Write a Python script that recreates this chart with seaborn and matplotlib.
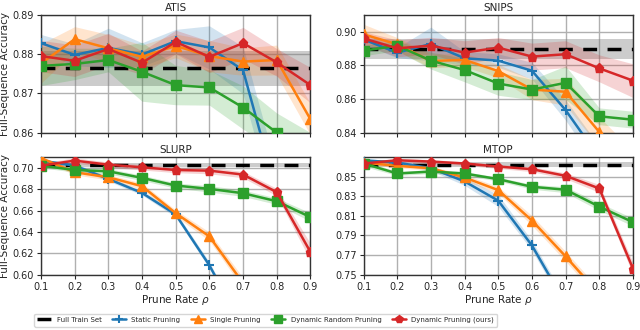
import numpy as np
import pandas as pd
import matplotlib
matplotlib.use("Agg")
import matplotlib.pyplot as plt
import seaborn as sns
from matplotlib.ticker import FormatStrFormatter

# Prune rates
rates = [0.1, 0.2, 0.3, 0.4, 0.5, 0.6, 0.7, 0.8, 0.9]
methods = ["Static Pruning", "Single Pruning", "Dynamic Random Pruning", "Dynamic Pruning (ours)"]
colors = ["#1f77b4", "#ff7f0e", "#2ca02c", "#d62728"]
markers = ["+", "^", "s", "p"]

# ATIS
atis_static = [0.8828, 0.8798, 0.8816, 0.8799, 0.8833, 0.8817, 0.8759, 0.8447, 0.8200]
atis_single = [0.8776, 0.8838, 0.8815, 0.8793, 0.8821, 0.8795, 0.8781, 0.8785, 0.8634]
atis_random = [0.8770, 0.8775, 0.8785, 0.8755, 0.8721, 0.8715, 0.8664, 0.8600, 0.8550]
atis_dynamic = [0.8795, 0.8783, 0.8813, 0.8778, 0.8831, 0.8793, 0.8828, 0.8779, 0.8721]
atis_static_sd = [0.0022, 0.0028, 0.0050, 0.0030, 0.0030, 0.0055, 0.0060, 0.0060, 0.0060]
atis_single_sd = [0.0050, 0.0032, 0.0035, 0.0030, 0.0030, 0.0040, 0.0035, 0.0038, 0.0040]
atis_random_sd = [0.0050, 0.0040, 0.0030, 0.0075, 0.0050, 0.0045, 0.0055, 0.0050, 0.0050]
atis_dynamic_sd = [0.0040, 0.0040, 0.0040, 0.0030, 0.0030, 0.0040, 0.0040, 0.0035, 0.0045]
atis_full, atis_full_sd = 0.8764, 0.0045

# SNIPS
snips_static = [0.8954, 0.8875, 0.8927, 0.8842, 0.8828, 0.8768, 0.8534, 0.8250, 0.8000]
snips_single = [0.8984, 0.8925, 0.8826, 0.8832, 0.8766, 0.8656, 0.8643, 0.8404, 0.8200]
snips_random = [0.8887, 0.8917, 0.8828, 0.8772, 0.8692, 0.8656, 0.8696, 0.8497, 0.8477]
snips_dynamic = [0.8960, 0.8901, 0.8917, 0.8876, 0.8905, 0.8852, 0.8866, 0.8782, 0.8709]
snips_static_sd = [0.0030, 0.0030, 0.0100, 0.0040, 0.0040, 0.0050, 0.0060, 0.0070, 0.0070]
snips_single_sd = [0.0060, 0.0040, 0.0040, 0.0040, 0.0040, 0.0060, 0.0080, 0.0090, 0.0090]
snips_random_sd = [0.0030, 0.0030, 0.0050, 0.0070, 0.0070, 0.0060, 0.0100, 0.0050, 0.0050]
snips_dynamic_sd = [0.0040, 0.0050, 0.0050, 0.0070, 0.0060, 0.0080, 0.0080, 0.0080, 0.0100]
snips_full, snips_full_sd = 0.8895, 0.0060

# SLURP
slurp_static = [0.7069, 0.7022, 0.6897, 0.6766, 0.6564, 0.6087, 0.5500, 0.4900, 0.4300]
slurp_single = [0.7093, 0.6960, 0.6913, 0.6829, 0.6576, 0.6358, 0.5920, 0.5500, 0.5000]
slurp_random = [0.7022, 0.6981, 0.6969, 0.6907, 0.6835, 0.6804, 0.6763, 0.6688, 0.6539]
slurp_dynamic = [0.7022, 0.7069, 0.7031, 0.7006, 0.6981, 0.6975, 0.6938, 0.6773, 0.6212]
slurp_static_sd = [0.0015, 0.0020, 0.0020, 0.0020, 0.0025, 0.0030, 0.0030, 0.0030, 0.0030]
slurp_single_sd = [0.0015, 0.0025, 0.0025, 0.0030, 0.0030, 0.0040, 0.0050, 0.0050, 0.0050]
slurp_random_sd = [0.0020, 0.0020, 0.0025, 0.0025, 0.0025, 0.0030, 0.0030, 0.0030, 0.0040]
slurp_dynamic_sd = [0.0025, 0.0025, 0.0025, 0.0025, 0.0025, 0.0030, 0.0030, 0.0035, 0.0080]
slurp_full, slurp_full_sd = 0.7031, 0.0020

# MTOP
mtop_static = [0.8669, 0.8646, 0.8588, 0.8453, 0.8256, 0.7798, 0.7200, 0.6600, 0.6000]
mtop_single = [0.8646, 0.8612, 0.8588, 0.8493, 0.8364, 0.8053, 0.7686, 0.7300, 0.6900]
mtop_random = [0.8636, 0.8534, 0.8554, 0.8534, 0.8476, 0.8398, 0.8368, 0.8195, 0.8036]
mtop_dynamic = [0.8636, 0.8669, 0.8656, 0.8636, 0.8605, 0.8578, 0.8510, 0.8381, 0.7561]
mtop_static_sd = [0.0015, 0.0020, 0.0025, 0.0040, 0.0060, 0.0050, 0.0050, 0.0050, 0.0050]
mtop_single_sd = [0.0015, 0.0020, 0.0020, 0.0030, 0.0035, 0.0050, 0.0050, 0.0050, 0.0050]
mtop_random_sd = [0.0030, 0.0020, 0.0020, 0.0020, 0.0020, 0.0025, 0.0030, 0.0040, 0.0040]
mtop_dynamic_sd = [0.0020, 0.0020, 0.0020, 0.0020, 0.0020, 0.0025, 0.0030, 0.0040, 0.0060]
mtop_full, mtop_full_sd = 0.8622, 0.0025

panels = [
    ("ATIS", [atis_static, atis_single, atis_random, atis_dynamic],
     [atis_static_sd, atis_single_sd, atis_random_sd, atis_dynamic_sd],
     atis_full, atis_full_sd, (0.86, 0.89), [0.86, 0.87, 0.88, 0.89]),
    ("SNIPS", [snips_static, snips_single, snips_random, snips_dynamic],
     [snips_static_sd, snips_single_sd, snips_random_sd, snips_dynamic_sd],
     snips_full, snips_full_sd, (0.84, 0.91), [0.84, 0.86, 0.88, 0.90]),
    ("SLURP", [slurp_static, slurp_single, slurp_random, slurp_dynamic],
     [slurp_static_sd, slurp_single_sd, slurp_random_sd, slurp_dynamic_sd],
     slurp_full, slurp_full_sd, (0.60, 0.7105), [0.60, 0.62, 0.64, 0.66, 0.68, 0.70]),
    ("MTOP", [mtop_static, mtop_single, mtop_random, mtop_dynamic],
     [mtop_static_sd, mtop_single_sd, mtop_random_sd, mtop_dynamic_sd],
     mtop_full, mtop_full_sd, (0.75, 0.8705), [0.75, 0.77, 0.79, 0.81, 0.83, 0.85]),
]

sns.set_style("ticks")
plt.rcParams["font.family"] = ["DejaVu Sans"]

fig, axes = plt.subplots(2, 2, figsize=(6.4, 3.3), dpi=100, sharex=True)
fig.subplots_adjust(left=0.064, right=0.989, top=0.955, bottom=0.168,
                    wspace=0.197, hspace=0.205)

for ax, (name, series, sds, full, full_sd, ylim, yticks) in zip(axes.flat, panels):
    x = np.array(rates)
    # full train set reference
    ax.axhspan(full - full_sd, full + full_sd, color="gray", alpha=0.4, lw=0, zorder=1)
    ax.axhline(full, color="black", ls=(0, (4, 3)), lw=2.5, zorder=5, label="Full Train Set")
    for vals, sd, c, m, lab in zip(series, sds, colors, markers, methods):
        vals = np.array(vals)
        sd = np.array(sd)
        ax.fill_between(x, vals - sd, vals + sd, color=c, alpha=0.2, lw=0, zorder=2)
        sns.lineplot(x=x, y=vals, ax=ax, color=c, marker=m, markersize=6.5,
                     markeredgecolor=c, markeredgewidth=1.5 if m == "+" else 1,
                     lw=1.8, label=lab, legend=False, zorder=6)
    ax.set_title(name, fontsize=7.5, pad=3)
    ax.set_xlim(0.1, 0.9)
    ax.set_ylim(*ylim)
    ax.set_yticks(yticks)
    ax.yaxis.set_major_formatter(FormatStrFormatter("%.2f"))
    ax.set_xticks(rates)
    ax.grid(True, color="#b0b0b0", lw=1)
    ax.tick_params(labelsize=7, length=3, pad=2)
    for s in ax.spines.values():
        s.set_color("#333333")
        s.set_linewidth(1)
    ax.set_ylabel("")
    ax.set_xlabel("")

for ax in axes[0]:
    ax.tick_params(labelbottom=False)
for ax in axes[1]:
    ax.set_xlabel(r"Prune Rate $\rho$", fontsize=7.5, labelpad=1)
for ax in axes[:, 0]:
    ax.set_ylabel("Full-Sequence Accuracy", fontsize=7.5, labelpad=2)

handles, labels = axes[0, 0].get_legend_handles_labels()
fig.legend(handles, labels, loc="lower left", ncol=5, fontsize=5.0,
           bbox_to_anchor=(0.048, 0.0), frameon=True, handlelength=2.0,
           columnspacing=1.5, borderpad=0.45, markerscale=0.9)

fig.savefig("out.png", dpi=100)
